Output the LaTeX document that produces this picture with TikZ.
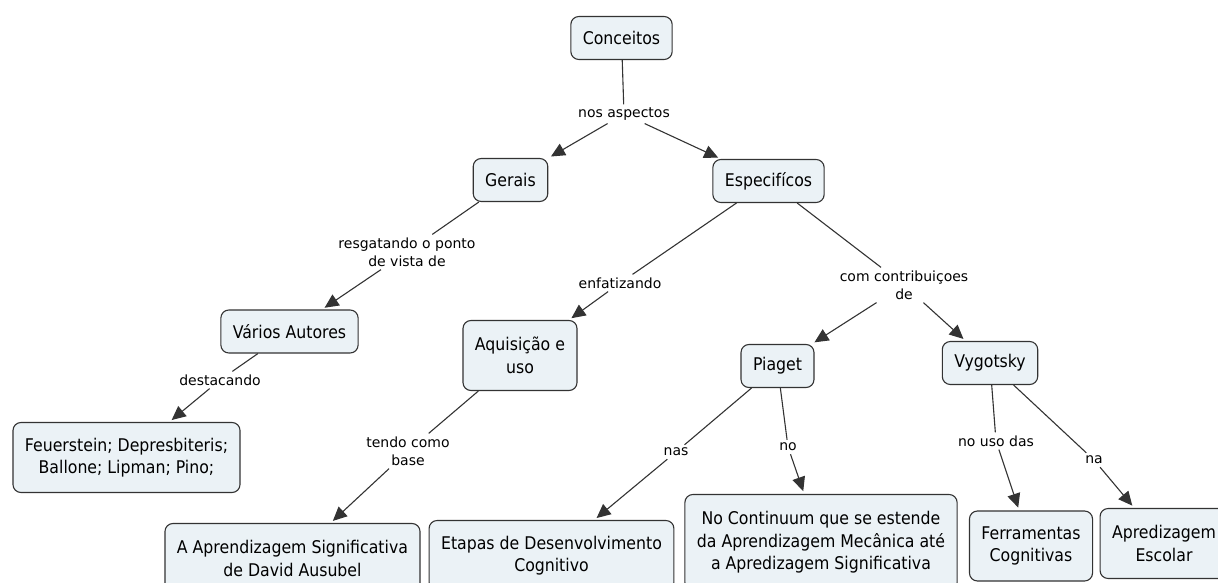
\documentclass[tikz,border=0pt]{standalone}
\usepackage{fontspec}
\setmainfont{DejaVu Sans Condensed}
\newfontfamily\linkfont{DejaVu Sans}
\usetikzlibrary{arrows.meta}
\definecolor{conceptfill}{HTML}{EBF2F6}
\definecolor{conceptline}{HTML}{333333}
\tikzset{
  concept/.style={draw=conceptline,fill=conceptfill,line width=1.1pt,rounded corners=8pt,
    align=center,inner xsep=12pt,inner ysep=2pt,minimum height=43pt,
    font=\fontsize{17.5}{22.5}\selectfont},
  twolines/.style={minimum height=70pt},
  threelines/.style={minimum height=96pt},
  linkword/.style={inner sep=3pt,align=center,font=\linkfont\fontsize{14}{18}\selectfont},
  linkline/.style={draw=conceptline,line width=1.1pt},
  linkarrow/.style={linkline,-{Triangle[length=14pt,width=13pt]},shorten >=3pt}
}
\begin{document}
\begin{tikzpicture}[x=1pt,y=-1pt]
             \useasboundingbox (0,0) rectangle (1218,583);
             % concepts
             \node[concept] (conceitos) at (621.5,38) {Conceitos};
             \node[concept] (gerais) at (510.5,180) {Gerais};
             \node[concept] (especificos) at (768.5,181) {Especifícos};
             \node[concept] (varios) at (289.5,331.5) {Vários Autores};
             \node[concept,twolines] (aquisicao) at (520,355.5) {Aquisição e\\uso};
             \node[concept] (piaget) at (777.5,366) {Piaget};
             \node[concept] (vygotsky) at (990,363) {Vygotsky};
             \node[concept,twolines] (feuerstein) at (126.5,457.5) {Feuerstein; Depresbiteris;\\Ballone; Lipman; Pino;};
             \node[concept,twolines] (ausubel) at (292.5,558.5) {A Aprendizagem Significativa\\de David Ausubel};
             \node[concept,twolines] (etapas) at (551.5,555.5) {Etapas de Desenvolvimento\\Cognitivo};
             \node[concept,threelines] (continuum) at (821,542.5) {No Continuum que se estende\\da Aprendizagem Mecânica até\\a Apredizagem Significativa};
             \node[concept,twolines] (ferramentas) at (1031,546) {Ferramentas\\Cognitivas};
             \node[concept,twolines] (escolar) at (1164,543.5) {Apredizagem\\Escolar};
             % linking words
             \node[linkword] (aspectos) at (624,114) {nos aspectos};
             \node[linkword] (resgatando) at (407,252) {resgatando o ponto\\de vista de};
             \node[linkword] (enfatizando) at (620,283) {enfatizando};
             \node[linkword] (contrib) at (904,285) {com contribuiçoes\\de};
             \node[linkword] (destacando) at (220,380) {destacando};
             \node[linkword] (tendo) at (408,451) {tendo como\\base};
             \node[linkword] (nas) at (676,452) {nas};
             \node[linkword] (no) at (788,447) {no};
             \node[linkword] (nouso) at (996,441) {no uso das};
             \node[linkword] (na) at (1094,460) {na};
             % connectors
             \foreach \a/\b in {conceitos/aspectos,gerais/resgatando,especificos/enfatizando,
                 especificos/contrib,varios/destacando,aquisicao/tendo,piaget/nas,piaget/no,
                 vygotsky/nouso,vygotsky/na} {
                 \draw[linkline] (\a) -- (\b);
             }
             \foreach \a/\b in {aspectos/gerais,aspectos/especificos,resgatando/varios,
                 enfatizando/aquisicao,contrib/piaget,contrib/vygotsky,destacando/feuerstein,
                 tendo/ausubel,nas/etapas,no/continuum,nouso/ferramentas,na/escolar} {
                 \draw[linkarrow] (\a) -- (\b);
             }
        \end{tikzpicture}
\end{document}
